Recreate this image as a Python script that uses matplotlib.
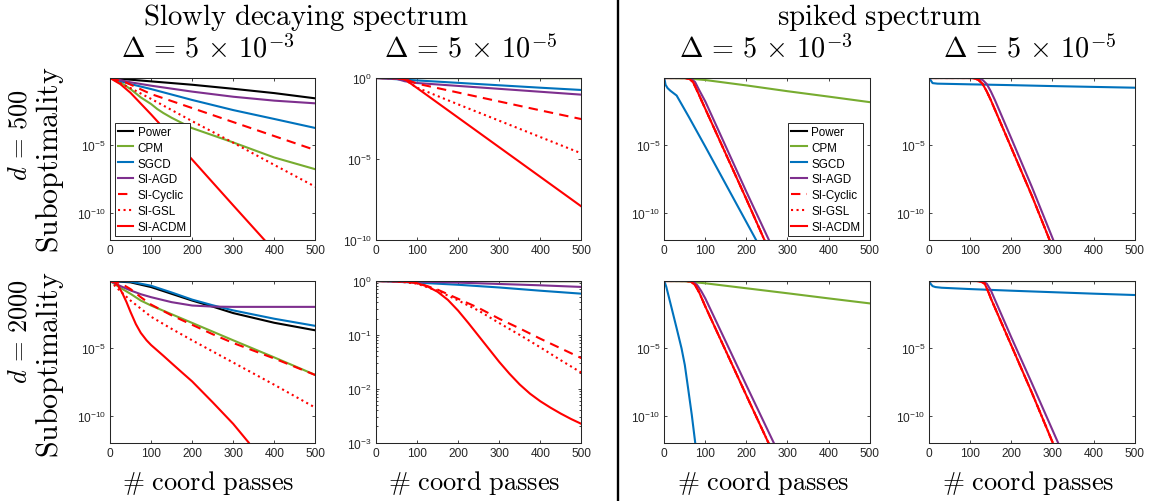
import numpy as np
import matplotlib
matplotlib.use("Agg")
import matplotlib.pyplot as plt
from matplotlib.lines import Line2D
from matplotlib.ticker import FixedLocator, FuncFormatter, NullLocator, LogLocator

plt.rcParams['font.family'] = ['Liberation Sans', 'DejaVu Sans']
plt.rcParams['mathtext.fontset'] = 'cm'

# ---------------- data (log10 of suboptimality) ----------------
methods = ['Power', 'CPM', 'SGCD', 'SI-AGD', 'SI-Cyclic', 'SI-GSL', 'SI-ACDM']
colors = ['#000000', '#77AC30', '#0072BD', '#7E2F8E', '#FF0000', '#FF0000', '#FF0000']
styles = ['-', '-', '-', '-', '--', ':', '-']

col_titles = [r'$\Delta\,=\,5\,\times\,10^{-3}$', r'$\Delta\,=\,5\,\times\,10^{-5}$',
              r'$\Delta\,=\,5\,\times\,10^{-3}$', r'$\Delta\,=\,5\,\times\,10^{-5}$']
group_titles = ['Slowly decaying spectrum', 'spiked spectrum']
row_dims = ['500', '2000']
x_ticks = [0, 100, 200, 300, 400, 500]

# Panel A: slowly decaying, d=500, Delta=5e-3
a_power_x = [0, 100, 200, 300, 400, 500]
a_power = [0, -0.25, -0.5, -0.8, -1.12, -1.51]
a_cpm_x = [0, 25, 50, 75, 100, 115, 130, 150, 200, 300, 400, 500]
a_cpm = [0, -0.32, -0.82, -1.44, -1.93, -2.3, -2.6, -2.95, -3.72, -4.78, -5.9, -6.77]
a_sgcd_x = [0, 50, 100, 200, 300, 400, 500]
a_sgcd = [0, -0.45, -0.82, -1.63, -2.38, -3.04, -3.71]
a_agd_x = [0, 50, 100, 200, 300, 400, 500]
a_agd = [0, -0.32, -0.57, -1.01, -1.39, -1.68, -1.88]
a_cyc_x = [0, 40, 100, 200, 300, 400, 500]
a_cyc = [0, -0.35, -1.19, -2.23, -3.27, -4.31, -5.35]
a_gsl_x = [0, 50, 100, 200, 300, 400, 500]
a_gsl = [0, -0.75, -1.55, -3.2, -4.8, -6.45, -8.07]
a_acdm_x = [0, 25, 50, 100, 200, 300, 380]
a_acdm = [0, -0.45, -1.1, -2.7, -6.05, -9.45, -12.15]

# Panel B: slowly decaying, d=500, Delta=5e-5
b_power_x = [0, 500]
b_power = [0, -0.005]
b_cpm_x = [0, 500]
b_cpm = [0, -0.005]
b_sgcd_x = [0, 100, 200, 300, 400, 500]
b_sgcd = [0, -0.15, -0.3, -0.45, -0.6, -0.74]
b_agd_x = [0, 50, 70, 100, 200, 300, 400, 500]
b_agd = [0, -0.05, -0.2, -0.31, -0.49, -0.67, -0.85, -1.03]
b_cyc_x = [0, 65, 100, 200, 300, 400, 500]
b_cyc = [0, -0.01, -0.35, -0.9, -1.45, -2.0, -2.54]
b_gsl_x = [0, 65, 100, 200, 300, 400, 500]
b_gsl = [0, -0.02, -0.6, -1.63, -2.64, -3.65, -4.66]
b_acdm_x = [0, 50, 70, 100, 200, 300, 400, 500]
b_acdm = [0, -0.01, -0.08, -0.62, -2.45, -4.28, -6.11, -7.94]

# Panel C: spiked, d=500, Delta=5e-3
c_power_x = [0, 500]
c_power = [0, 0]
c_cpm_x = [0, 50, 100, 200, 300, 400, 500]
c_cpm = [0, -0.02, -0.15, -0.55, -0.98, -1.38, -1.79]
c_sgcd_x = [0, 3, 8, 15, 30, 60, 100, 150, 200, 225]
c_sgcd = [0, -0.5, -0.75, -0.95, -1.3, -2.9, -5.1, -7.9, -10.7, -12.1]
c_agd_x = [0, 55, 65, 75, 85, 100, 150, 200, 256]
c_agd = [0, 0, -0.05, -0.3, -0.9, -1.75, -5.1, -8.45, -12.1]
c_acdm_x = [0, 50, 60, 70, 80, 100, 150, 200, 245]
c_acdm = [0, 0, -0.05, -0.3, -0.95, -2.3, -5.65, -9.0, -12.1]

# Panel D: spiked, d=500, Delta=5e-5
d_power_x = [0, 500]
d_power = [0, 0]
d_cpm_x = [0, 500]
d_cpm = [0, 0]
d_sgcd_x = [0, 3, 8, 20, 100, 200, 300, 400, 500]
d_sgcd = [0, -0.15, -0.38, -0.42, -0.47, -0.53, -0.6, -0.66, -0.72]
d_agd_x = [0, 110, 120, 130, 140, 150, 160, 200, 250, 303]
d_agd = [0, 0, -0.03, -0.15, -0.45, -1.0, -1.65, -4.5, -8.1, -12.1]
d_acdm_x = [0, 100, 110, 120, 130, 140, 150, 200, 250, 294]
d_acdm = [0, 0, -0.03, -0.15, -0.45, -1.0, -1.65, -5.2, -8.75, -12.1]

# Panel E: slowly decaying, d=2000, Delta=5e-3
e_power_x = [0, 50, 100, 150, 200, 250, 300, 400, 500]
e_power = [0, -0.1, -0.45, -0.95, -1.45, -1.9, -2.38, -3.1, -3.66]
e_cpm_x = [0, 25, 50, 75, 100, 200, 300, 400, 500]
e_cpm = [0, -0.5, -0.95, -1.45, -1.82, -3.11, -4.4, -5.67, -6.97]
e_sgcd_x = [0, 50, 100, 150, 200, 250, 300, 400, 500]
e_sgcd = [0, -0.05, -0.35, -0.85, -1.38, -1.8, -2.18, -2.8, -3.33]
e_agd_x = [0, 25, 50, 75, 100, 150, 200, 250, 300, 500]
e_agd = [0, -0.37, -0.7, -0.98, -1.2, -1.57, -1.82, -1.9, -1.92, -1.92]
e_cyc_x = [0, 25, 50, 75, 100, 150, 200, 250, 300, 400, 500]
e_cyc = [0, -0.15, -0.6, -1.2, -1.75, -2.55, -3.25, -3.95, -4.6, -5.75, -6.98]
e_gsl_x = [0, 25, 50, 100, 150, 200, 300, 400, 500]
e_gsl = [0, -0.75, -1.45, -2.65, -3.55, -4.4, -6.05, -7.7, -9.4]
e_acdm_x = [0, 10, 20, 30, 40, 50, 63, 75, 89, 100, 115, 130, 150, 175, 200,
            250, 300, 338, 345]
e_acdm = [0, -0.05, -0.35, -0.9, -1.55, -2.3, -3.2, -3.85, -4.4, -4.75, -5.15, -5.55,
          -6.1, -6.78, -7.45, -9.0, -10.6, -12.0, -12.3]

# Panel F: slowly decaying, d=2000, Delta=5e-5
f_power_x = [0, 500]
f_power = [0, -0.002]
f_cpm_x = [0, 500]
f_cpm = [0, -0.002]
f_sgcd_x = [0, 100, 200, 300, 400, 500]
f_sgcd = [0, -0.03, -0.07, -0.12, -0.18, -0.235]
f_agd_x = [0, 100, 200, 300, 400, 500]
f_agd = [0, -0.01, -0.03, -0.055, -0.08, -0.11]
f_cyc_x = [0, 50, 100, 150, 200, 250, 300, 350, 400, 450, 500]
f_cyc = [0, -0.005, -0.03, -0.16, -0.33, -0.5, -0.7, -0.88, -1.07, -1.25, -1.43]
f_gsl_x = [0, 50, 100, 150, 200, 250, 300, 350, 400, 450, 500]
f_gsl = [0, -0.005, -0.05, -0.18, -0.36, -0.55, -0.78, -1.0, -1.23, -1.47, -1.7]
f_acdm_x = [0, 50, 75, 100, 125, 150, 175, 200, 225, 250, 275, 300, 325, 350,
            375, 400, 425, 450, 475, 500]
f_acdm = [0, -0.005, -0.015, -0.04, -0.1, -0.2, -0.35, -0.55, -0.78, -1.02, -1.26,
          -1.5, -1.72, -1.92, -2.09, -2.23, -2.35, -2.46, -2.56, -2.65]

# Panel G: spiked, d=2000, Delta=5e-3
g_power_x = [0, 500]
g_power = [0, 0]
g_cpm_x = [0, 50, 100, 200, 300, 400, 500]
g_cpm = [0, -0.02, -0.17, -0.54, -0.91, -1.29, -1.66]
g_sgcd_x = [0, 5, 18, 30, 42, 50, 58, 67, 75, 77]
g_sgcd = [0, -0.45, -2.03, -3.5, -5.0, -6.24, -7.97, -9.95, -11.93, -12.5]
g_agd_x = [0, 60, 70, 80, 90, 100, 150, 200, 268]
g_agd = [0, 0, -0.05, -0.3, -0.75, -1.3, -4.52, -7.75, -12.1]
g_acdm_x = [0, 55, 65, 75, 85, 100, 150, 200, 255]
g_acdm = [0, 0, -0.05, -0.3, -0.85, -1.9, -5.2, -8.5, -12.1]

# Panel H: spiked, d=2000, Delta=5e-5
h_power_x = [0, 500]
h_power = [0, 0]
h_cpm_x = [0, 500]
h_cpm = [0, 0]
h_sgcd_x = [0, 3, 8, 15, 30, 100, 200, 300, 400, 500]
h_sgcd = [0, -0.2, -0.38, -0.45, -0.5, -0.6, -0.72, -0.83, -0.94, -1.04]
h_agd_x = [0, 120, 130, 140, 150, 160, 200, 250, 315]
h_agd = [0, 0, -0.03, -0.2, -0.7, -1.4, -4.2, -7.6, -12.1]
h_acdm_x = [0, 115, 125, 135, 145, 150, 200, 250, 302]
h_acdm = [0, 0, -0.03, -0.2, -0.9, -1.3, -4.8, -8.3, -12.1]

# series per panel, in legend order (Cyclic/GSL coincide with ACDM in spiked panels)
panels = [
    [(a_power_x, a_power), (a_cpm_x, a_cpm), (a_sgcd_x, a_sgcd), (a_agd_x, a_agd),
     (a_cyc_x, a_cyc), (a_gsl_x, a_gsl), (a_acdm_x, a_acdm)],
    [(b_power_x, b_power), (b_cpm_x, b_cpm), (b_sgcd_x, b_sgcd), (b_agd_x, b_agd),
     (b_cyc_x, b_cyc), (b_gsl_x, b_gsl), (b_acdm_x, b_acdm)],
    [(c_power_x, c_power), (c_cpm_x, c_cpm), (c_sgcd_x, c_sgcd), (c_agd_x, c_agd),
     (c_acdm_x, c_acdm), (c_acdm_x, c_acdm), (c_acdm_x, c_acdm)],
    [(d_power_x, d_power), (d_cpm_x, d_cpm), (d_sgcd_x, d_sgcd), (d_agd_x, d_agd),
     (d_acdm_x, d_acdm), (d_acdm_x, d_acdm), (d_acdm_x, d_acdm)],
    [(e_power_x, e_power), (e_cpm_x, e_cpm), (e_sgcd_x, e_sgcd), (e_agd_x, e_agd),
     (e_cyc_x, e_cyc), (e_gsl_x, e_gsl), (e_acdm_x, e_acdm)],
    [(f_power_x, f_power), (f_cpm_x, f_cpm), (f_sgcd_x, f_sgcd), (f_agd_x, f_agd),
     (f_cyc_x, f_cyc), (f_gsl_x, f_gsl), (f_acdm_x, f_acdm)],
    [(g_power_x, g_power), (g_cpm_x, g_cpm), (g_sgcd_x, g_sgcd), (g_agd_x, g_agd),
     (g_acdm_x, g_acdm), (g_acdm_x, g_acdm), (g_acdm_x, g_acdm)],
    [(h_power_x, h_power), (h_cpm_x, h_cpm), (h_sgcd_x, h_sgcd), (h_agd_x, h_agd),
     (h_acdm_x, h_acdm), (h_acdm_x, h_acdm), (h_acdm_x, h_acdm)],
]
ylims = [(1e-12, 1), (1e-10, 1), (1e-12, 1), (1e-12, 1),
         (1e-12, 1), (1e-3, 1), (1e-12, 1), (1e-12, 1)]
yticks = [[1e-10, 1e-5], [1e-10, 1e-5, 1e0], [1e-10, 1e-5], [1e-10, 1e-5],
          [1e-10, 1e-5], [1e-3, 1e-2, 1e-1, 1e0], [1e-10, 1e-5], [1e-10, 1e-5]]

# ---------------- figure ----------------
W, H = 1149, 502
fig = plt.figure(figsize=(W / 100, H / 100), dpi=100)

col_left = [110, 376, 664.3, 929.3]
row_top = [79, 282]
aw, ah = 205.3, 161.7
axcol = '#262626'


def fmt(v, pos):
    return r'$\mathregular{10^{%d}}$' % int(round(np.log10(v)))


axes = []
for r in range(2):
    for c in range(4):
        k = r * 4 + c
        ax = fig.add_axes([col_left[c] / W, 1 - (row_top[r] + ah) / H, aw / W, ah / H])
        axes.append(ax)
        for i, (xs, ls) in enumerate(panels[k]):
            ys = 10.0 ** np.array(ls)
            if styles[i] == '--':
                ax.plot(xs, ys, color=colors[i], lw=1.5, label=methods[i],
                        linestyle=(0, (4.5, 3)))
            else:
                ax.plot(xs, ys, color=colors[i], lw=1.5, label=methods[i],
                        linestyle=styles[i])
        ax.set_yscale('log')
        ax.set_xlim(0, 500)
        ax.set_ylim(*ylims[k])
        ax.xaxis.set_major_locator(FixedLocator(x_ticks))
        ax.yaxis.set_major_locator(FixedLocator(yticks[k]))
        ax.yaxis.set_major_formatter(FuncFormatter(fmt))
        if k == 5:
            ax.yaxis.set_minor_locator(LogLocator(base=10, subs=np.arange(2, 10)))
            ax.yaxis.set_minor_formatter(FuncFormatter(lambda v, p: ''))
        else:
            ax.yaxis.set_minor_locator(NullLocator())
        ax.tick_params(which='both', direction='in', top=True, right=True,
                       color=axcol, width=0.6, labelsize=8.6, labelcolor=axcol, pad=3)
        ax.tick_params(which='major', length=2.5)
        ax.tick_params(which='minor', length=1.5)
        for s in ax.spines.values():
            s.set_color(axcol)
            s.set_linewidth(0.75)

leg_kw = dict(fontsize=8.4, frameon=True, fancybox=False, edgecolor=axcol,
              framealpha=1, borderpad=0.25, labelspacing=0.34, handlelength=1.3,
              handletextpad=0.4, borderaxespad=0)
lg = axes[0].legend(loc='lower left', bbox_to_anchor=(0.024, 0.021), **leg_kw)
lg.get_frame().set_linewidth(0.7)
lg = axes[2].legend(loc='lower right', bbox_to_anchor=(0.969, 0.021), **leg_kw)
lg.get_frame().set_linewidth(0.7)

# column headers and x labels
col_shift = [-5, -8, -1, -2]
for c in range(4):
    cx = (col_left[c] + aw / 2 + col_shift[c]) / W
    fig.text(cx, 1 - 58 / H, col_titles[c], ha='center', va='baseline', fontsize=20.3)
    fig.text((col_left[c] + aw / 2 - 4) / W, 1 - 490 / H,
             r'$\#\ \mathrm{coord\ passes}$', ha='center', va='baseline', fontsize=19)

fig.text(306 / W, 1 - 25 / H, r'$\mathrm{Slowly\ decaying\ spectrum}$', ha='center',
         va='baseline', fontsize=20.8)
fig.text(880 / W, 1 - 25 / H, r'$\mathrm{spiked\ spectrum}$', ha='center',
         va='baseline', fontsize=20.8)

# row labels
row_d_y = [135, 332]
row_s_y = [160, 365]
for r in range(2):
    fig.text(20 / W, 1 - row_d_y[r] / H, r'$d\,=\,%s$' % row_dims[r], rotation=90,
             ha='center', va='center', fontsize=19)
    fig.text(50 / W, 1 - row_s_y[r] / H, r'$\mathrm{Suboptimality}$', rotation=90,
             ha='center', va='center', fontsize=21.5)

# divider
fig.add_artist(Line2D([618 / W, 618 / W], [0, 1], transform=fig.transFigure,
                      color='black', lw=1.7))

fig.savefig('out.png', dpi=100)
